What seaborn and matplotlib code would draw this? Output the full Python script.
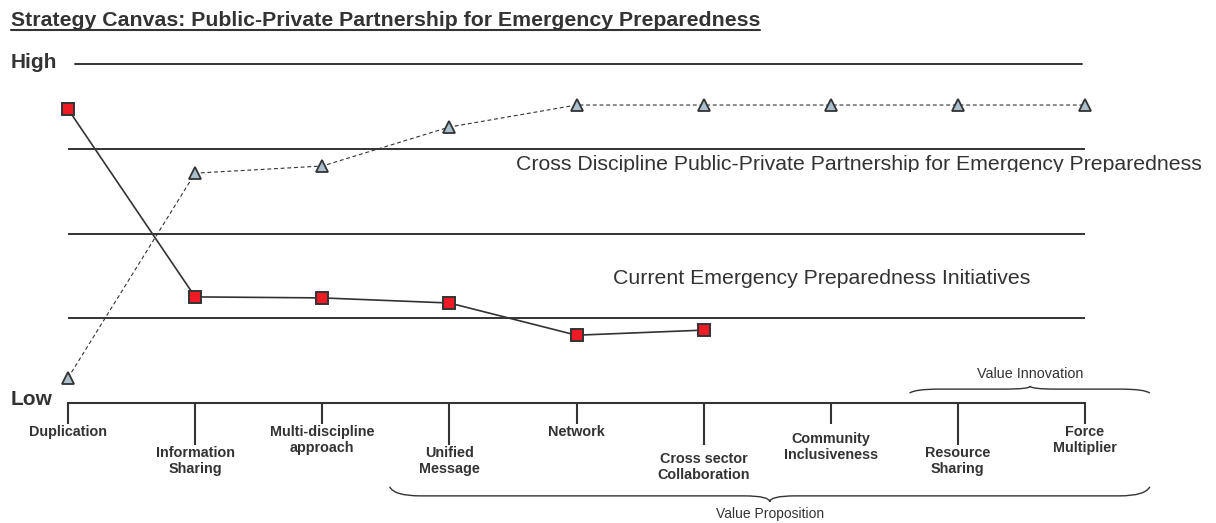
import numpy as np
import pandas as pd
import matplotlib
matplotlib.use("Agg")
import matplotlib.pyplot as plt
from matplotlib.path import Path
from matplotlib.patches import PathPatch, Rectangle
from matplotlib.lines import Line2D
from matplotlib.transforms import IdentityTransform
import seaborn as sns

# ---------------- data ----------------
categories = ["Duplication", "Information\nSharing", "Multi-discipline\napproach",
              "Unified\nMessage", "Network", "Cross sector\nCollaboration",
              "Community\nInclusiveness", "Resource\nSharing", "Force\nMultiplier"]
current_values = [8.67, 3.13, 3.10, 2.95, 2.0, 2.15]
partnership_values = [0.74, 6.78, 6.99, 8.14, 8.79, 8.79, 8.79, 8.79, 8.79]
series_labels = ["Current Emergency Preparedness Initiatives",
                 "Cross Discipline Public-Private Partnership for Emergency Preparedness"]
title_text = "Strategy Canvas: Public-Private Partnership for Emergency Preparedness"
level_labels = ["Low", "High"]
band_levels = [2.5, 5.0, 7.5]
bracket_labels = ["Value Proposition", "Value Innovation"]

# ---------------- style ----------------
sns.set_theme(style="white")
plt.rcParams['font.family'] = ['Liberation Sans', 'DejaVu Sans']
INK = '#333333'
W, H = 1216, 523
fig = plt.figure(figsize=(W / 100, H / 100), dpi=100)
fig.patch.set_facecolor('white')

def px_x(p):
    return p / W

def px_y(p):
    return 1 - p / H

ax = fig.add_axes([68 / W, (H - 403) / H, 1017 / W, 339 / H])
ax.set_facecolor('white')

df_cur = pd.DataFrame({"pos": np.arange(len(current_values)), "value": current_values})
df_new = pd.DataFrame({"pos": np.arange(len(partnership_values)), "value": partnership_values})

sns.lineplot(data=df_new, x="pos", y="value", ax=ax, estimator=None, sort=False,
             color=INK, lw=0.8, linestyle=(0, (3.5, 2.5)), marker='^', markersize=8.4,
             markerfacecolor='#a9bfcc', markeredgecolor=INK, markeredgewidth=1.3,
             clip_on=False, zorder=4)
sns.lineplot(data=df_cur, x="pos", y="value", ax=ax, estimator=None, sort=False,
             color=INK, lw=1.2, marker='s', markersize=8.2,
             markerfacecolor='#ee1b24', markeredgecolor=INK, markeredgewidth=1.4,
             clip_on=False, zorder=5)

ax.set_xlim(0, len(categories) - 1)
ax.set_ylim(0, 10)
ax.set_xlabel("")
ax.set_ylabel("")
ax.set_yticks([])

for lv in band_levels:
    ax.axhline(lv, color=INK, lw=1.4, zorder=1)
ax.axhline(10, xmin=0.007, xmax=0.997, color=INK, lw=1.4, clip_on=False, zorder=1)

for s in ['top', 'right', 'left']:
    ax.spines[s].set_visible(False)
ax.spines['bottom'].set_color(INK)
ax.spines['bottom'].set_linewidth(1.5)

# x ticks with staggered lengths
ax.set_xticks(np.arange(len(categories)))
ax.set_xticklabels(categories, fontsize=10.4, fontweight='bold', color=INK, linespacing=1.2)
BASE_LEN = 15.1
ax.tick_params(axis='x', direction='out', length=BASE_LEN, width=1.5, color=INK, pad=0.7,
               bottom=True)
tick_len_px = [21, 42, 21, 42, 21, 42, 21, 42, 21]
label_pad_px = [22, 43, 22, 43, 22, 49, 29, 43, 22]
for t, L, P in zip(ax.xaxis.get_major_ticks(), tick_len_px, label_pad_px):
    t.set_pad(P * 0.72 - BASE_LEN)
    t.tick1line.set_markersize(L * 0.72)

# series labels
ax.text(4.287, 3.66, series_labels[0], fontsize=15.3, color=INK, ha='left', va='center')
t2 = ax.text(3.524, 6.87, series_labels[1], fontsize=15.3, color=INK, ha='left',
             va='baseline', clip_on=True)
t2.set_clip_path(Rectangle((3.0, 6.81), 7.0, 2.0, transform=ax.transData))

# braces
def brace(x0, x1, xm, y, e, t, s, r, r2):
    ye = y - s * e
    yt = y + s * t
    verts = [(x0, ye), (x0 + r * 0.15, y), (x0 + r, y), (xm - r2, y),
             (xm, y), (xm, yt),
             (xm, y), (xm + r2, y), (x1 - r, y),
             (x1 - r * 0.15, y), (x1, ye)]
    codes = [Path.MOVETO, Path.CURVE3, Path.CURVE3, Path.LINETO,
             Path.CURVE3, Path.CURVE3,
             Path.CURVE3, Path.CURVE3, Path.LINETO,
             Path.CURVE3, Path.CURVE3]
    ax.add_patch(PathPatch(Path(verts, codes), fill=False, edgecolor=INK, lw=1.0,
                           clip_on=False))

brace(6.62, 8.51, 7.57, 0.41, 0.12, 0.09, +1, 0.24, 0.2)
ax.text(7.57, 0.86, bracket_labels[1], fontsize=10.4, color=INK, ha='center', va='center')
brace(2.53, 8.51, 5.52, -2.74, 0.27, 0.18, -1, 0.24, 0.2)
ax.text(5.52, -3.27, bracket_labels[0], fontsize=10.0, color=INK, ha='center', va='center')

# High / Low
fig.text(px_x(11), px_y(68.5), level_labels[1], fontsize=15.0, fontweight='bold',
         color=INK, ha='left', va='baseline')
fig.text(px_x(11), px_y(405), level_labels[0], fontsize=15.0, fontweight='bold',
         color=INK, ha='left', va='baseline')

# title with underline
title = fig.text(px_x(11), px_y(26), title_text, fontsize=15.3, fontweight='bold',
                 color=INK, ha='left', va='baseline')
fig.canvas.draw()
bb = title.get_window_extent(fig.canvas.get_renderer())
uy = (H - 26) - 3.5
fig.add_artist(Line2D([bb.x0, bb.x1], [uy, uy], transform=IdentityTransform(),
                      color=INK, lw=1.5))

fig.savefig("out.png", dpi=100, facecolor='white')
